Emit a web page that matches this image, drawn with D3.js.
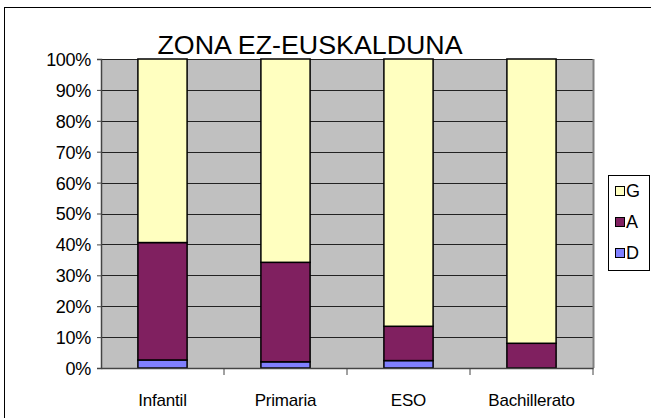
<!DOCTYPE html>
<html><head><meta charset="utf-8">
<script src="https://cdn.jsdelivr.net/npm/d3@7"></script>
<style>body{margin:0;background:#fff}svg{display:block}</style>
</head><body>
<svg id="c" width="651" height="418"></svg>
<script>
const categories = ["Infantil", "Primaria", "ESO", "Bachillerato"];
const seriesNames = ["D", "A", "G"];
const D = [2.6, 2.0, 2.4, 0.0];
const A = [38.0, 32.2, 11.1, 8.0];
const G = [59.4, 65.8, 86.5, 92.0];
const yTicks = [0, 10, 20, 30, 40, 50, 60, 70, 80, 90, 100];
const colors = {G: "#ffffc0", A: "#802060", D: "#8080ff"};

const svg = d3.select("#c");
const font = "Liberation Sans, Arial, sans-serif";
svg.append("rect").attr("x", 4.5).attr("y", 7.5).attr("width", 660).attr("height", 430)
  .attr("fill", "none").attr("stroke", "#000").attr("stroke-width", 1);

const L = 101, R = 593, T = 59, B = 368;
const x = d3.scaleBand().domain(categories).range([L, R]).paddingInner(0.6).paddingOuter(0.3);
const y = d3.scaleLinear().domain([0, 100]).range([B, T]);

svg.append("rect").attr("x", L).attr("y", T).attr("width", R - L).attr("height", B - T).attr("fill", "#c0c0c0");
svg.append("g").selectAll("line").data(yTicks.slice(1)).join("line")
  .attr("x1", L).attr("x2", R).attr("y1", d => Math.round(y(d)) + 0.5).attr("y2", d => Math.round(y(d)) + 0.5)
  .attr("stroke", "#222").attr("stroke-width", 1);
svg.append("line").attr("x1", R + 0.5).attr("x2", R + 0.5).attr("y1", T).attr("y2", B)
  .attr("stroke", "#808080").attr("stroke-width", 2);

const data = categories.map((c, i) => ({cat: c, D: D[i], A: A[i], G: G[i]}));
const stack = d3.stack().keys(seriesNames)(data);
const bars = svg.append("g");
stack.forEach(s => {
  bars.selectAll(null).data(s.filter(d => d[1] - d[0] > 0)).join("rect")
    .attr("x", d => x(d.data.cat))
    .attr("y", d => y(d[1]))
    .attr("width", x.bandwidth())
    .attr("height", d => y(d[0]) - y(d[1]))
    .attr("fill", colors[s.key])
    .attr("stroke", "#000").attr("stroke-width", 1.5);
});

const yAxis = d3.axisLeft(y).tickValues(yTicks).tickFormat(d => d + "%").tickSize(4).tickPadding(6);
const ya = svg.append("g").attr("transform", `translate(${L},0)`).call(yAxis);
ya.select(".domain").attr("stroke", "#444").attr("stroke-width", 1.5);
ya.selectAll(".tick line").attr("stroke", "#444");
ya.selectAll("text").attr("font-family", font).attr("font-size", 18).attr("fill", "#000")
  .attr("dy", "0.36em").attr("letter-spacing", -0.3);

const xa = svg.append("g").attr("transform", `translate(0,${B})`)
  .call(d3.axisBottom(x).tickSize(0).tickPadding(26));
xa.select(".domain").attr("stroke", "#444").attr("stroke-width", 1.5);
xa.selectAll("text").attr("font-family", font).attr("font-size", 17).attr("fill", "#000").attr("letter-spacing", -0.2);
const bounds = categories.map((c, i) => L + (R - L) / categories.length * (i + 1));
svg.append("g").selectAll("line").data(bounds).join("line")
  .attr("x1", d => d).attr("x2", d => d).attr("y1", B).attr("y2", B + 7)
  .attr("stroke", "#444").attr("stroke-width", 1);

svg.append("text").attr("x", 310).attr("y", 54).attr("text-anchor", "middle")
  .attr("font-family", font).attr("font-size", 26).attr("textLength", 305).attr("lengthAdjust", "spacingAndGlyphs")
  .text("ZONA EZ-EUSKALDUNA");

const lg = svg.append("g");
lg.append("rect").attr("x", 608.5).attr("y", 175.5).attr("width", 41).attr("height", 95)
  .attr("fill", "#fff").attr("stroke", "#000");
const legendItems = ["G", "A", "D"];
legendItems.forEach((k, i) => {
  const cy = 191 + i * 31;
  lg.append("rect").attr("x", 615.5).attr("y", cy - 4.5).attr("width", 9).attr("height", 9)
    .attr("fill", colors[k]).attr("stroke", "#000");
  lg.append("text").attr("x", 626).attr("y", cy).attr("dy", "0.36em")
    .attr("font-family", font).attr("font-size", 18).text(k);
});
</script>
</body></html>
